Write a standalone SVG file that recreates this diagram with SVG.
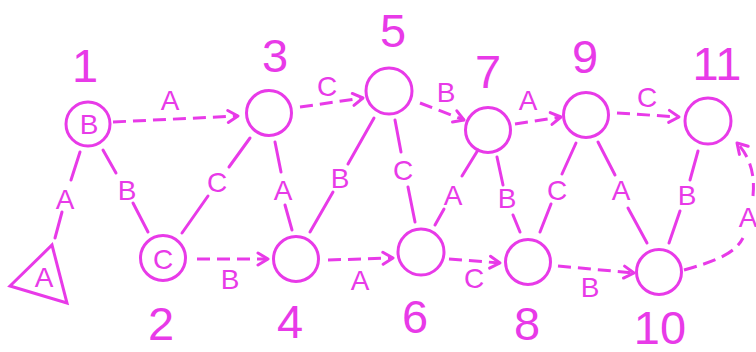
<svg xmlns="http://www.w3.org/2000/svg" width="756" height="352" viewBox="0 0 756 352">
<style>
.n{fill:none;stroke:#e83ae8;stroke-width:3}
.e{fill:none;stroke:#e83ae8;stroke-width:3;stroke-linecap:round}
.d{fill:none;stroke:#e83ae8;stroke-width:3;stroke-dasharray:13 7}
.t{fill:#e83ae8;font-family:"Liberation Sans",Arial,sans-serif;text-anchor:middle}
.l{font-size:28px}
.num{font-size:47px}
</style>
<defs>
<marker id="ar" markerUnits="userSpaceOnUse" markerWidth="16" markerHeight="16" refX="13" refY="8" orient="auto" viewBox="0 0 16 16">
<path d="M3,2 L13,8 L3,14" fill="none" stroke="#e83ae8" stroke-width="3" stroke-linecap="round" stroke-linejoin="round"/>
</marker>
</defs>
<rect width="756" height="352" fill="#fff"/>
<g id="connectors">
<line class="e" x1="80" y1="152" x2="71" y2="180"/><line class="e" x1="62" y1="212" x2="55" y2="238"/>
<text class="t l" x="65" y="209">A</text>
<line class="e" x1="103" y1="150" x2="116" y2="173"/><line class="e" x1="133" y1="203" x2="148" y2="232"/>
<text class="t l" x="127" y="200">B</text>
<path class="d" d="M113 122 L238 116" marker-end="url(#ar)"/>
<text class="t l" x="170" y="110">A</text>
<line class="e" x1="250" y1="138" x2="229" y2="167"/><line class="e" x1="208" y1="196" x2="182" y2="233"/>
<text class="t l" x="217" y="192">C</text>
<path class="d" d="M197 259 L268 259" marker-end="url(#ar)"/>
<text class="t l" x="230" y="289">B</text>
<line class="e" x1="275" y1="142" x2="281" y2="172"/><line class="e" x1="285" y1="205" x2="292" y2="230"/>
<text class="t l" x="283" y="200">A</text>
<line class="e" x1="310" y1="232" x2="333" y2="192"/><line class="e" x1="348" y1="164" x2="374" y2="118"/>
<text class="t l" x="340" y="188">B</text>
<path class="d" d="M300 107 L363 98" marker-end="url(#ar)"/>
<text class="t l" x="327" y="96">C</text>
<line class="e" x1="395" y1="120" x2="401" y2="152"/><line class="e" x1="408" y1="187" x2="415" y2="222"/>
<text class="t l" x="403" y="180">C</text>
<path class="d" d="M420 103 L464 120" marker-end="url(#ar)"/>
<text class="t l" x="446" y="102">B</text>
<path class="d" d="M328 260 L393 258" marker-end="url(#ar)"/>
<text class="t l" x="360" y="290">A</text>
<line class="e" x1="435" y1="225" x2="444" y2="209"/><line class="e" x1="462" y1="176" x2="478" y2="150"/>
<text class="t l" x="453" y="205">A</text>
<line class="e" x1="497" y1="157" x2="503" y2="185"/><line class="e" x1="513" y1="215" x2="520" y2="232"/>
<text class="t l" x="507" y="208">B</text>
<path class="d" d="M449 259 L500 263" marker-end="url(#ar)"/>
<text class="t l" x="474" y="288">C</text>
<path class="d" d="M515 124 L561 117" marker-end="url(#ar)"/>
<text class="t l" x="528" y="110">A</text>
<line class="e" x1="540" y1="232" x2="551" y2="204"/><line class="e" x1="562" y1="174" x2="576" y2="143"/>
<text class="t l" x="557" y="200">C</text>
<line class="e" x1="598" y1="142" x2="615" y2="175"/><line class="e" x1="628" y1="208" x2="647" y2="243"/>
<text class="t l" x="621" y="200">A</text>
<path class="d" d="M558 266 L634 273" marker-end="url(#ar)"/>
<text class="t l" x="590" y="297">B</text>
<path class="d" d="M617 113 L679 117" marker-end="url(#ar)"/>
<text class="t l" x="647" y="107">C</text>
<line class="e" x1="698" y1="151" x2="690" y2="180"/><line class="e" x1="680" y1="211" x2="669" y2="243"/>
<text class="t l" x="687" y="205">B</text>
<path class="d" d="M684 270 C712 262 734 255 743 238"/>
<path class="d" d="M753 196 C755 176 751 158 737 143" marker-end="url(#ar)"/>
<text class="t l" x="748" y="227">A</text>
</g>
<g id="nodeT"><polygon class="n" points="10,286 52,245 67,303" stroke-linejoin="miter"/><text class="t l" x="44" y="287">A</text></g>
<g id="node1"><circle class="n" cx="88" cy="124" r="22"/><text class="t l" x="89" y="134">B</text><text class="t num" x="85" y="82">1</text></g>
<g id="node2"><circle class="n" cx="163" cy="258" r="22.5"/><text class="t l" x="163" y="269">C</text><text class="t num" x="161" y="340">2</text></g>
<g id="node3"><circle class="n" cx="269" cy="113" r="22.5"/><text class="t num" x="275" y="72">3</text></g>
<g id="node4"><circle class="n" cx="296" cy="259" r="22.5"/><text class="t num" x="290" y="338">4</text></g>
<g id="node5"><circle class="n" cx="389" cy="91" r="23"/><text class="t num" x="393" y="47">5</text></g>
<g id="node6"><circle class="n" cx="421" cy="252" r="23"/><text class="t num" x="415" y="333">6</text></g>
<g id="node7"><circle class="n" cx="488" cy="130" r="22.5"/><text class="t num" x="488" y="88">7</text></g>
<g id="node8"><circle class="n" cx="528" cy="262" r="22.5"/><text class="t num" x="527" y="340">8</text></g>
<g id="node9"><circle class="n" cx="586" cy="115" r="22.5"/><text class="t num" x="585" y="73">9</text></g>
<g id="node10"><circle class="n" cx="659" cy="272" r="22.5"/><text class="t num" x="660" y="344">10</text></g>
<g id="node11"><circle class="n" cx="708" cy="121" r="23"/><text class="t num" x="717" y="80">11</text></g>
</svg>
